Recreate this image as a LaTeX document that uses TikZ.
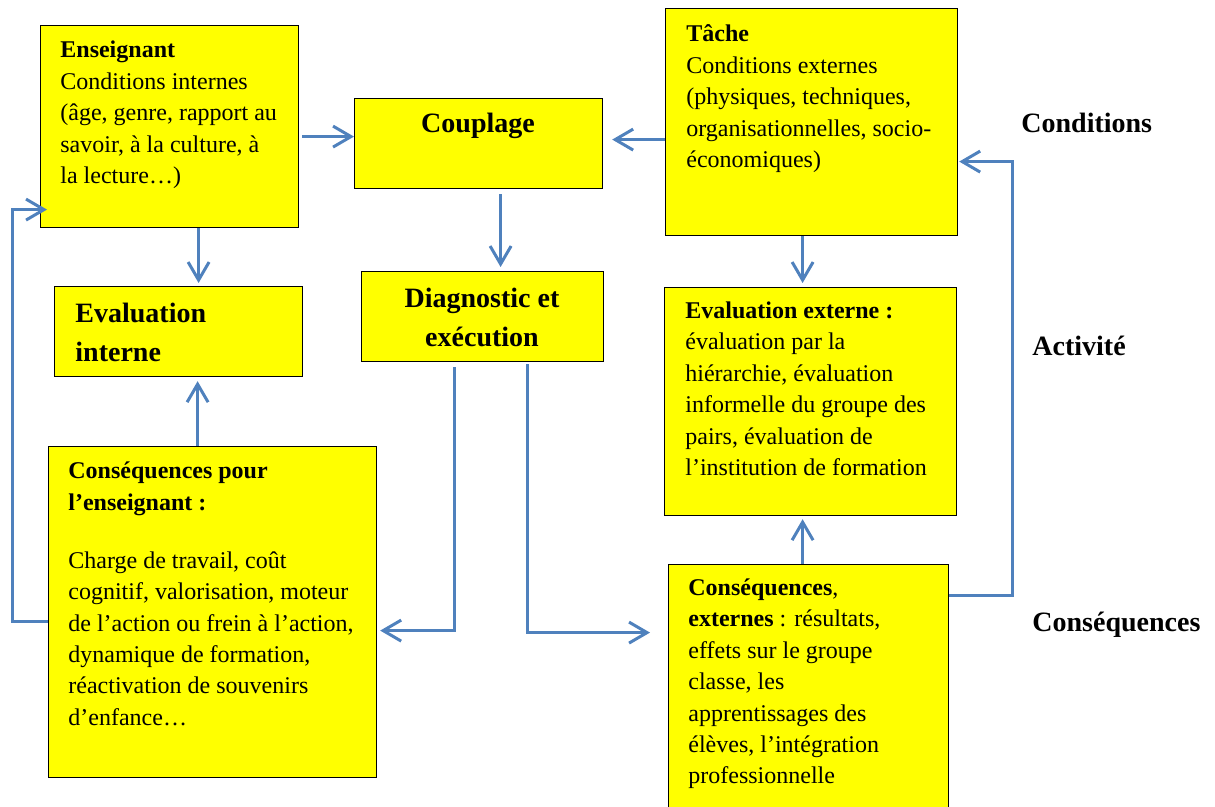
\documentclass[tikz,border=0pt]{standalone}
\usepackage{fontspec}
\setmainfont{Liberation Serif}
\usetikzlibrary{arrows.meta,calc}
\definecolor{boxyellow}{RGB}{255,255,0}
\definecolor{arrblue}{RGB}{79,129,189}
\newcommand{\leftlines}[1]{\parbox[t]{230pt}{\raggedright #1}}
\newcommand{\centerlines}[1]{\parbox[t]{230pt}{\centering #1}}
\begin{document}
\begin{tikzpicture}[x=0.5pt,y=-0.5pt,
  box/.style={draw=black,fill=boxyellow,line width=0.6pt,inner sep=0pt,anchor=north west},
  body/.style={inner sep=0pt,anchor=base west,font=\fontsize{12}{15.7}\selectfont},
  big/.style={inner sep=0pt,font=\fontsize{14}{19.5}\selectfont\bfseries},
  arr/.style={draw=arrblue,line width=1.5pt,-{Straight Barb[length=9pt,width=10.5pt]}}
]
\useasboundingbox (0,0) rectangle (1215,807);

% boxes
\node[box,minimum width=129pt,minimum height=101pt] (ens) at (40,25) {};
\node[box,minimum width=124pt,minimum height=45pt] (evi) at (54,286) {};
\node[box,minimum width=124pt,minimum height=45pt] (cpl) at (354,98) {};
\node[box,minimum width=121pt,minimum height=45pt] (diag) at (361,271) {};
\node[box,minimum width=146pt,minimum height=113.5pt] (tache) at (665,8) {};
\node[box,minimum width=146pt,minimum height=114pt] (eve) at (664,287) {};
\node[box,minimum width=140pt,minimum height=125pt] (cxe) at (668,564) {};
\node[box,minimum width=164pt,minimum height=165.5pt] (cpi) at (48,446) {};

% texts
\node[body] (ensT) at (60,58) {\leftlines{\textbf{Enseignant}\\Conditions internes\\(âge, genre, rapport au\\savoir, à la culture, à\\la lecture…)}};
\node[big,anchor=base west] (eviT) at (75,323) {\leftlines{Evaluation\\interne}};
\node[big,anchor=base] (cplT) at (478,133) {Couplage};
\node[big,anchor=base] (diagT) at (482,308) {\centerlines{Diagnostic et\\exécution}};
\node[body] (tacheT) at (686,42) {\leftlines{\textbf{Tâche}\\Conditions externes\\(physiques, techniques,\\organisationnelles, socio-\\économiques)}};
\node[body] (eveT) at (685,318.6) {\leftlines{\textbf{Evaluation externe :}\\évaluation par la\\hiérarchie, évaluation\\informelle du groupe des\\pairs, évaluation de\\l’institution de formation}};
\node[body] (cxeT) at (688,595.4) {\leftlines{\textbf{Conséquences},\\\textbf{externes} : résultats,\\effets sur le groupe\\classe, les\\apprentissages des\\élèves, l’intégration\\professionnelle}};
\node[body] (cpiT) at (68,479) {\leftlines{\textbf{Conséquences pour}\\\textbf{l’enseignant :}\\[13.3pt]Charge de travail, coût\\cognitif, valorisation, moteur\\de l’action ou frein à l’action,\\dynamique de formation,\\réactivation de souvenirs\\d’enfance…}};

% side labels
\node[big,anchor=base west] (lcond) at (1021,133) {Conditions};
\node[big,anchor=base west] (lact) at (1032,356) {Activité};
\node[big,anchor=base west] (lcons) at (1032,631) {Conséquences};

% arrows
\draw[arr,shorten <=1.5pt] ([yshift=-5pt]ens.east) -- ([yshift=-5pt]ens.east -| cpl.west);
\draw[arr,shorten >=4.5pt] ([yshift=-8.75pt]tache.west) -- ([yshift=-8.75pt]tache.west -| cpl.east);
\draw[arr,shorten >=1.5pt] ([xshift=14.5pt]ens.south) -- ([xshift=14.5pt]ens.south |- evi.north);
\draw[arr,shorten >=2pt] ([xshift=-7.5pt]cpi.north) -- ([xshift=-7.5pt]cpi.north |- evi.south);
\draw[arr,shorten <=2.5pt,shorten >=2pt] ([xshift=11pt]cpl.south) -- ([xshift=11pt]cpl.south |- diag.north);
\draw[arr,shorten >=2pt] ([xshift=-4.5pt]tache.south) -- ([xshift=-4.5pt]tache.south |- eve.north);
\draw[arr,shorten >=1.5pt] ([xshift=-3pt]cxe.north) -- ([xshift=-3pt]cxe.north |- eve.south);
\draw[arr,shorten <=2.5pt,shorten >=1.5pt] ([xshift=-14pt]diag.south) |- ([yshift=-9.25pt]cpi.east);
\draw[arr,shorten <=1pt,shorten >=9pt] ([xshift=22.5pt]diag.south) |- ([yshift=28.5pt]cxe.west);
\draw[arr,shorten >=0.5pt] ([yshift=47pt]cxe.east) -- ++(63,0) |- ([yshift=-19.75pt]tache.east);
\draw[arr,shorten >=-3.5pt] ([yshift=-4.75pt]cpi.west) -- ++(-36,0) |- ([yshift=-41.5pt]ens.west);
\end{tikzpicture}
\end{document}
